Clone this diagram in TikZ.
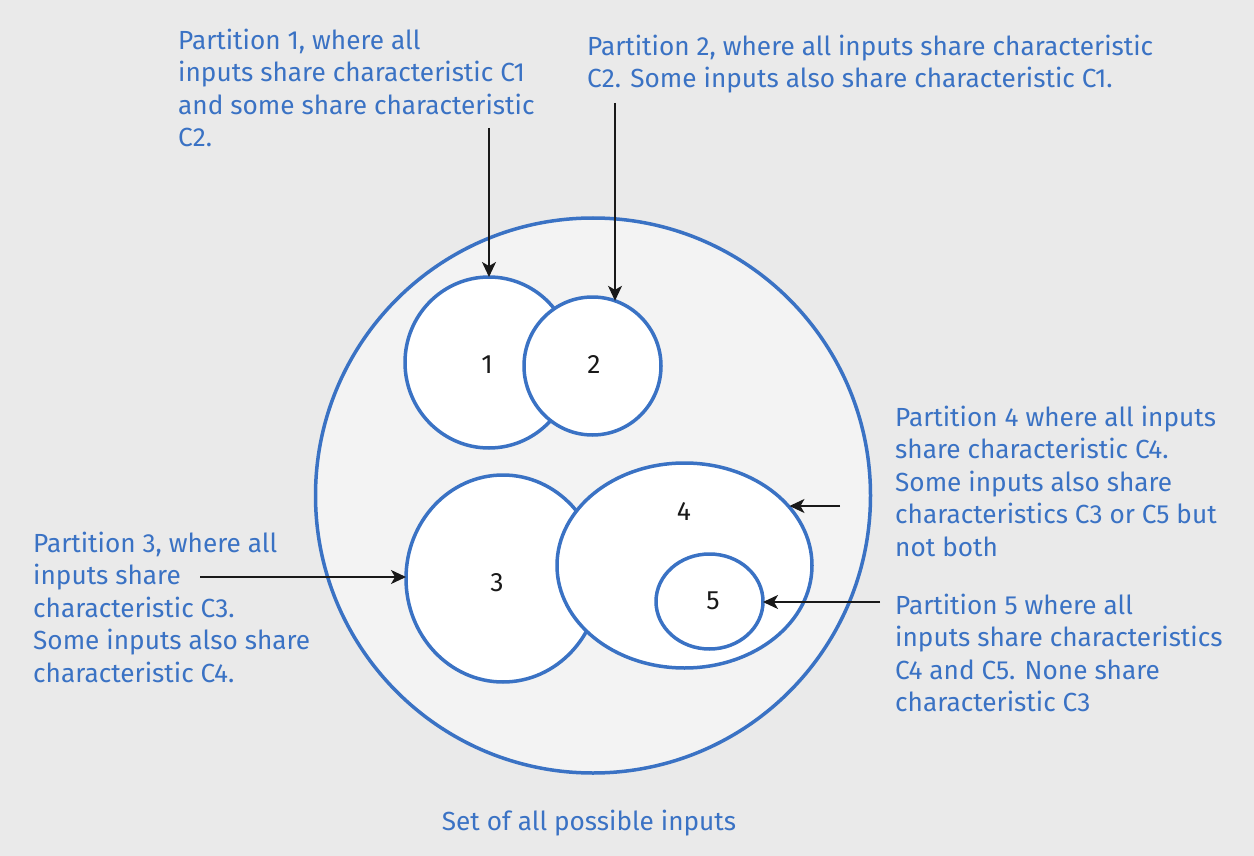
\documentclass[tikz,border=0pt]{standalone}
\usepackage{fontspec}
\setmainfont{Fira Sans}
\usetikzlibrary{arrows.meta,shapes.geometric}
\definecolor{bg}{HTML}{EAEAEA}
\definecolor{setfill}{HTML}{F3F3F3}
\definecolor{pblue}{HTML}{3A72C4}
\tikzset{
  txt/.style={anchor=north west,inner sep=0pt,align=left,text=pblue,font=\fontsize{26.2}{32.5}\selectfont},
  part/.style={ellipse,draw=pblue,line width=3.5pt,fill=white,inner sep=0pt,outer sep=0pt},
  digit/.style={inner sep=0pt,font=\fontsize{26.5}{30}\selectfont,text=black!90},
  arr/.style={-{Stealth[length=15pt,width=14pt,inset=4pt]},line width=1.5pt,black!90}
}
\begin{document}
\begin{tikzpicture}[x=1pt,y=-1pt]
\fill[bg] (0,0) rectangle (1254,856);
\useasboundingbox (0,0) rectangle (1254,856);
% set of all inputs
\node[ellipse,draw=pblue,line width=3.5pt,fill=setfill,minimum width=555pt,minimum height=555pt,inner sep=0pt] (all) at (593,495.5) {};
% partitions
\node[part,minimum width=168pt,minimum height=171pt] (c1) at (489,362.5) {};
\node[part,minimum width=137pt,minimum height=138pt] (c2) at (592.5,366) {};
\node[part,minimum width=194pt,minimum height=207pt] (c3) at (503,578.5) {};
\node[part,minimum width=255pt,minimum height=205pt] (c4) at (684.5,565.5) {};
\node[part,minimum width=107pt,minimum height=95pt] (c5) at (709.5,601.5) {};
\node[digit] (d1) at (487,365) {1};
\node[digit] (d2) at (594,365) {2};
\node[digit] (d3) at (497,583) {3};
\node[digit] (d4) at (684,512) {4};
\node[digit] (d5) at (713,601) {5};
% texts
\node[txt] (t1) at (178,28.5) {Partition 1, where all\\inputs share characteristic C1\\and some share characteristic\\C2.};
\node[txt] (t2) at (587,34.5) {Partition 2, where all inputs share characteristic\\C2. Some inputs also share characteristic C1.};
\node[txt] (t3) at (33,531.5) {Partition 3, where all\\inputs share\\characteristic C3.\\Some inputs also share\\characteristic C4.};
\node[txt] (t4) at (895,405.5) {Partition 4 where all inputs\\share characteristic C4.\\Some inputs also share\\characteristics C3 or C5 but\\not both};
\node[txt] (t5) at (895,593.5) {Partition 5 where all\\inputs share characteristics\\C4 and C5. None share\\characteristic C3};
\node[txt,anchor=north] (tall) at (589,809.5) {Set of all possible inputs};
% arrow start points
\coordinate (s1) at (489,128);
\coordinate (s2) at (615,103);
\coordinate (s3) at (200,577);
\coordinate (s4) at (840,506);
\coordinate (s5) at (880,602);
\draw[arr] (s1) -- (c1.north);
\draw[arr] (s2) -- (s2 |- c2.71);
\draw[arr] (s3) -- (s3 -| c3.west);
\draw[arr] (s4) -- (s4 -| c4.29);
\draw[arr] (s5) -- (s5 -| c5.east);
\end{tikzpicture}
\end{document}
